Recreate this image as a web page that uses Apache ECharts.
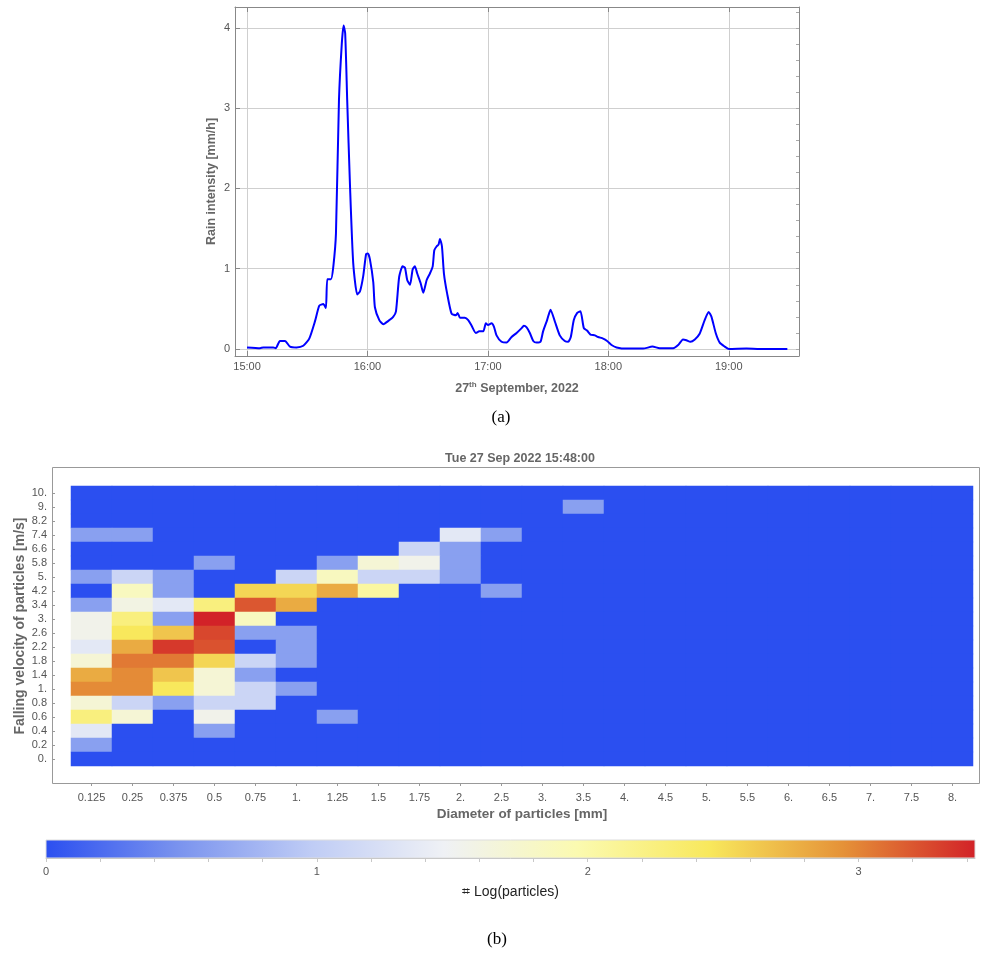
<!DOCTYPE html>
<html>
<head>
<meta charset="utf-8">
<script src="https://cdn.jsdelivr.net/npm/echarts@6/dist/echarts.min.js"></script>
<style>html,body{margin:0;padding:0;background:#fff}#c{width:982px;height:957px}</style>
</head>
<body>
<div id="c"></div>
<script>
// ---------- (a) rain intensity: [minutes after 15:00, mm/h] ----------
const rainTime = [0,6.5,8.1,13.1,14.3,16.4,18.9,21.4,24.7,28.0,31.0,33.9,36.0,38.0,39.3,40.0,41.8,43.0,44.3,45.8,47.2,48.1,48.9,49.9,51.3,52.9,54.9,56.3,57.9,59.3,60.2,61.2,62.9,63.7,65.9,67.9,70.4,72.8,74.2,75.8,77.5,78.7,79.8,81.2,82.5,83.6,84.8,86.5,87.8,89.5,91.1,92.5,93.3,94.5,95.4,96.1,97.1,98.1,99.7,101.9,104.1,104.9,106.1,108.5,110.2,111.9,114.0,115.7,117.7,119.0,120.1,121.8,123.0,124.3,126.8,129.3,131.8,134.3,136.8,137.9,139.3,140.9,142.6,144.2,146.2,147.5,149.5,151.2,153.4,155.8,158.3,160.0,161.3,162.8,164.5,166.1,167.8,169.4,171.1,173.3,174.9,177.4,179.4,181.6,184.1,189.1,197.3,202.0,205.6,212.3,214.8,217.2,218.9,220.9,223.1,225.5,228.0,230.0,231.4,233.5,235.5,238.0,240.1,248.8,255.4,269.2];
const rainValue = [0.02,0.01,0.02,0.02,0.01,0.10,0.10,0.03,0.02,0.04,0.13,0.35,0.54,0.56,0.51,0.87,0.87,1.03,1.44,3.10,3.80,4.03,3.93,3.10,2.03,1.07,0.68,0.72,0.91,1.18,1.19,1.12,0.83,0.52,0.36,0.31,0.35,0.40,0.47,0.90,1.03,1.01,0.86,0.80,0.99,1.03,0.94,0.82,0.70,0.86,0.94,1.03,1.23,1.28,1.30,1.37,1.28,0.94,0.69,0.44,0.42,0.45,0.39,0.39,0.36,0.29,0.20,0.22,0.22,0.32,0.30,0.32,0.28,0.17,0.09,0.08,0.15,0.20,0.26,0.29,0.27,0.20,0.10,0.08,0.09,0.22,0.36,0.49,0.34,0.17,0.10,0.09,0.15,0.36,0.45,0.47,0.26,0.23,0.18,0.17,0.15,0.13,0.10,0.05,0.02,0.005,0.005,0.03,0.01,0.01,0.05,0.12,0.11,0.09,0.12,0.19,0.36,0.46,0.40,0.20,0.08,0.03,0.00,0.005,0.00,0.00];
const hourTicks = [0,60,120,180,240];
const hourLabels = ['15:00','16:00','17:00','18:00','19:00'];
const rainTicks = [0,1,2,3,4];
const rainMinorTicks = [0,0.2,0.4,0.6,0.8,1,1.2,1.4,1.6,1.8,2,2.2,2.4,2.6,2.8,3,3.2,3.4,3.6,3.8,4,4.2];

// ---------- (b) heatmap: log10(particles) ----------
const diameters = ['0.125','0.25','0.375','0.5','0.75','1.','1.25','1.5','1.75','2.','2.5','3.','3.5','4.','4.5','5.','5.5','6.','6.5','7.','7.5','8.'];
const velocities = ['10.','9.','8.2','7.4','6.6','5.8','5.','4.2','3.4','3.','2.6','2.2','1.8','1.4','1.','0.8','0.6','0.4','0.2','0.'];
const logCounts = [
 [0,0,0,0,0,0,0,0,0,0,0,0,0,0,0,0,0,0,0,0,0,0],
 [0,0,0,0,0,0,0,0,0,0,0,0,0.6,0,0,0,0,0,0,0,0,0],
 [0,0,0,0,0,0,0,0,0,0,0,0,0,0,0,0,0,0,0,0,0,0],
 [0.6,0.6,0,0,0,0,0,0,0,1.35,0.6,0,0,0,0,0,0,0,0,0,0,0],
 [0,0,0,0,0,0,0,0,1.1,0.6,0,0,0,0,0,0,0,0,0,0,0,0],
 [0,0,0,0.6,0,0,0.6,1.7,1.55,0.6,0,0,0,0,0,0,0,0,0,0,0,0],
 [0.6,1.1,0.6,0,0,1.1,1.85,1.1,1.1,0.6,0,0,0,0,0,0,0,0,0,0,0,0],
 [0,1.85,0.6,0,2.55,2.55,2.8,2.05,0,0,0.6,0,0,0,0,0,0,0,0,0,0,0],
 [0.6,1.6,1.35,2.25,3.2,2.8,0,0,0,0,0,0,0,0,0,0,0,0,0,0,0,0],
 [1.55,2.25,0.6,3.43,1.85,0,0,0,0,0,0,0,0,0,0,0,0,0,0,0,0,0],
 [1.55,2.45,2.65,3.27,0.6,0.6,0,0,0,0,0,0,0,0,0,0,0,0,0,0,0,0],
 [1.35,2.8,3.33,3.22,0,0.6,0,0,0,0,0,0,0,0,0,0,0,0,0,0,0,0],
 [1.7,3.05,3.05,2.55,1.1,0.6,0,0,0,0,0,0,0,0,0,0,0,0,0,0,0,0],
 [2.8,2.97,2.65,1.7,0.6,0,0,0,0,0,0,0,0,0,0,0,0,0,0,0,0,0],
 [2.97,2.97,2.45,1.7,1.1,0.6,0,0,0,0,0,0,0,0,0,0,0,0,0,0,0,0],
 [1.7,1.1,0.6,1.1,1.1,0,0,0,0,0,0,0,0,0,0,0,0,0,0,0,0,0],
 [2.25,1.7,0,1.55,0,0,0.6,0,0,0,0,0,0,0,0,0,0,0,0,0,0,0],
 [1.35,0,0,0.6,0,0,0,0,0,0,0,0,0,0,0,0,0,0,0,0,0,0],
 [0.6,0,0,0,0,0,0,0,0,0,0,0,0,0,0,0,0,0,0,0,0,0],
 [0,0,0,0,0,0,0,0,0,0,0,0,0,0,0,0,0,0,0,0,0,0]
];
const colorMin = 0, colorMax = 3.43;
const colorStops = ['#2b4ff0','#7a93ee','#bfccf5','#eff1f5','#fbfab0','#f8e85c','#e59238','#d22228'];
const cbLabelTicks = [0,1,2,3];
const cbTicks = [0,0.2,0.4,0.6,0.8,1,1.2,1.4,1.6,1.8,2,2.2,2.4,2.6,2.8,3,3.2,3.4];

const heatData = [];
logCounts.forEach((row, r) => row.forEach((v, c) => heatData.push([c, r, v])));
const rainData = rainTime.map((t, i) => [t, rainValue[i]]);

const chart = echarts.init(document.getElementById('c'), null, {renderer: 'canvas'});
const gray = '#888';
const sans = "'Liberation Sans', Arial, sans-serif";
chart.setOption({
  animation: false,
  backgroundColor: '#fff',
  grid: [
    {left: 235, top: 7, width: 564, height: 349},
    {left: 71, top: 486, width: 902, height: 280},
    {left: 46, top: 840, width: 929, height: 18}
  ],
  xAxis: [
    {type: 'value', gridIndex: 0, min: -6, max: 275, position: 'bottom',
     axisLine: {show: true, onZero: false, lineStyle: {color: gray}},
     axisTick: {show: true, inside: true, length: 5, customValues: hourTicks, lineStyle: {color: gray}},
     axisLabel: {customValues: hourTicks, formatter: v => hourLabels[hourTicks.indexOf(v)], color: '#555', fontSize: 11, fontFamily: sans, margin: 5},
     splitLine: {show: true, lineStyle: {color: '#cfcfcf', width: 1}},
     name: '27{sup|th} September, 2022', nameLocation: 'middle', nameGap: 25, nameMoveOverlap: false,
     nameTextStyle: {color: '#666', fontWeight: 'bold', fontSize: 12.5, fontFamily: sans,
       rich: {sup: {fontSize: 8, fontWeight: 'bold', color: '#666', verticalAlign: 'top', padding: [0, 0, 7, 0]}}}
    },
    {type: 'value', gridIndex: 0, min: -6, max: 275, position: 'top',
     axisLine: {show: true, onZero: false, lineStyle: {color: gray}},
     axisTick: {show: true, inside: true, length: 5, customValues: hourTicks, lineStyle: {color: gray}},
     axisLabel: {show: false}, splitLine: {show: false}
    },
    {type: 'category', gridIndex: 1, data: diameters, position: 'bottom', offset: 17,
     axisLine: {show: false, onZero: false},
     axisTick: {show: true, alignWithLabel: true, length: 3, lineStyle: {color: '#999'}},
     axisLabel: {color: '#555', fontSize: 11, fontFamily: sans, margin: 9, interval: 0},
     splitLine: {show: false},
     name: 'Diameter of particles [mm]', nameLocation: 'middle', nameGap: 24, nameMoveOverlap: false,
     nameTextStyle: {color: '#666', fontWeight: 'bold', fontSize: 13.5, fontFamily: sans}
    },
    {type: 'value', gridIndex: 2, min: colorMin, max: colorMax, position: 'bottom',
     axisLine: {show: true, onZero: false, lineStyle: {color: '#c8c8c8'}},
     axisTick: {show: true, length: 4, customValues: cbTicks, lineStyle: {color: '#c8c8c8'}},
     axisLabel: {customValues: cbLabelTicks, color: '#555', fontSize: 11, fontFamily: sans, margin: 8},
     splitLine: {show: false},
     name: '\u2317 Log(particles)', nameLocation: 'middle', nameGap: 27, nameMoveOverlap: false,
     nameTextStyle: {color: '#222', fontSize: 14, fontFamily: sans}
    }
  ],
  yAxis: [
    {type: 'value', gridIndex: 0, min: -0.087, max: 4.26, position: 'left',
     axisLine: {show: true, onZero: false, lineStyle: {color: gray}},
     axisTick: {show: true, inside: true, length: 5, customValues: rainTicks, lineStyle: {color: gray}},
     axisLabel: {customValues: rainTicks, color: '#555', fontSize: 11, fontFamily: sans, margin: 5},
     splitLine: {show: true, lineStyle: {color: '#cfcfcf', width: 1}},
     name: 'Rain intensity [mm/h]', nameLocation: 'middle', nameGap: 17, nameMoveOverlap: false,
     nameTextStyle: {color: '#666', fontWeight: 'bold', fontSize: 12.5, fontFamily: sans}
    },
    {type: 'value', gridIndex: 0, min: -0.087, max: 4.26, position: 'right',
     axisLine: {show: true, onZero: false, lineStyle: {color: gray}},
     axisTick: {show: true, inside: true, length: 3, customValues: rainMinorTicks, lineStyle: {color: '#aaa'}},
     axisLabel: {show: false}, splitLine: {show: false}
    },
    {type: 'category', gridIndex: 1, data: velocities, inverse: true, position: 'left', offset: 19,
     axisLine: {show: false, onZero: false},
     axisTick: {show: true, inside: true, alignWithLabel: true, length: 3, lineStyle: {color: '#999'}},
     axisLabel: {color: '#555', fontSize: 11, fontFamily: sans, margin: 5, interval: 0},
     splitLine: {show: false},
     name: 'Falling velocity of particles [m/s]', nameLocation: 'middle', nameGap: 25, nameMoveOverlap: false,
     nameTextStyle: {color: '#666', fontWeight: 'bold', fontSize: 14, fontFamily: sans}
    },
    {type: 'value', gridIndex: 2, show: false, min: 0, max: 1}
  ],
  visualMap: {
    show: false, type: 'continuous', seriesIndex: 1, min: colorMin, max: colorMax, dimension: 2,
    inRange: {color: colorStops}
  },
  graphic: [
    {type: 'rect', shape: {x: 52.5, y: 467.5, width: 927, height: 316}, style: {fill: 'none', stroke: '#999', lineWidth: 1}, silent: true, z: 0},
    {type: 'rect', shape: {x: 46, y: 840, width: 929, height: 18},
     style: {fill: new echarts.graphic.LinearGradient(0, 0, 1, 0, colorStops.map((c, i) => ({offset: i / (colorStops.length - 1), color: c}))), stroke: '#ddd', lineWidth: 1}, silent: true},
    {type: 'text', style: {text: 'Tue 27 Sep 2022 15:48:00', x: 520, y: 459, textAlign: 'center', textVerticalAlign: 'middle', fill: '#666', font: "bold 12.5px 'Liberation Sans', Arial, sans-serif"}},
    {type: 'text', style: {text: '(a)', x: 501, y: 418, textAlign: 'center', textVerticalAlign: 'middle', fill: '#000', font: "17px 'Liberation Serif', 'Times New Roman', serif"}},
    {type: 'text', style: {text: '(b)', x: 497, y: 940, textAlign: 'center', textVerticalAlign: 'middle', fill: '#000', font: "17px 'Liberation Serif', 'Times New Roman', serif"}}
  ],
  series: [
    {type: 'line', xAxisIndex: 0, yAxisIndex: 0, data: rainData, showSymbol: false, smooth: 0.2,
     lineStyle: {color: '#0000ff', width: 2}, z: 5},
    {type: 'heatmap', xAxisIndex: 2, yAxisIndex: 2, data: heatData, itemStyle: {borderWidth: 0}}
  ]
});
</script>
</body>
</html>
